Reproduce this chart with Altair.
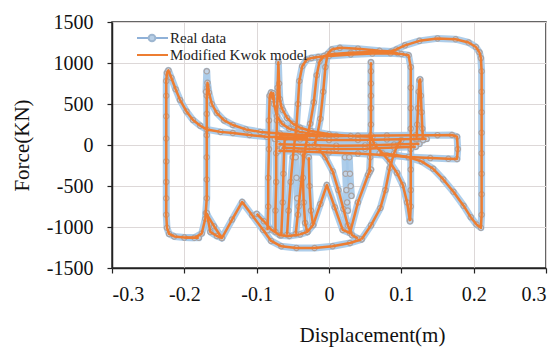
import altair as alt
import pandas as pd

# ---- x tick values / y tick values
x_ticks = [-0.3, -0.2, -0.1, 0.0, 0.1, 0.2, 0.3]
y_ticks = [-1500, -1000, -500, 0, 500, 1000, 1500]

# ---- hysteresis segments (displacement m, force kN)
s1_x = [-0.180, -0.200, -0.214, -0.221, -0.224, -0.225, -0.225, -0.225, -0.225, -0.225, -0.225, -0.225, -0.225, -0.224, -0.222, -0.218, -0.212, -0.206, -0.197, -0.188, -0.178, -0.169, -0.150, -0.133, -0.110, -0.086, -0.060, -0.030]
s1_y = [-1132, -1128, -1115, -1085, -1010, -850, -650, -450, -200, 80, 350, 600, 780, 880, 910, 820, 680, 550, 410, 305, 235, 190, 160, 146, 122, 100, 90, 82]

s2_x = [-0.200, -0.186, -0.176, -0.171, -0.169, -0.169, -0.169, -0.169, -0.169, -0.169, -0.168, -0.166, -0.162, -0.155, -0.145, -0.133, -0.115, -0.095, -0.068, -0.040, -0.010]
s2_y = [-1128, -1132, -1080, -900, -650, -420, -150, 120, 380, 600, 760, 640, 500, 390, 300, 244, 190, 160, 140, 122, 110]

s3_x = [-0.170, -0.159, -0.148, -0.134, -0.120, -0.106, -0.091, -0.080, -0.066, -0.045, -0.020, 0.005, 0.029, 0.045]
s3_y = [-830, -990, -1134, -910, -695, -860, -1036, -1170, -1235, -1255, -1256, -1235, -1195, -1150]

s3b_x = [-0.169, -0.164, -0.155, -0.148]
s3b_y = [-830, -1060, -1110, -1134]

s4_x = [-0.100, -0.090, -0.080, -0.068, -0.055, -0.040, -0.030, -0.022, -0.012, -0.003, 0.008, 0.019, 0.029, 0.040, 0.054, 0.058]
s4_y = [-840, -930, -1030, -1100, -1110, -1090, -1060, -976, -720, -488, -760, -1036, -1073, -700, -366, -300]

s5_x = [-0.074, -0.074, -0.073, -0.073, -0.072, -0.071, -0.070, -0.069, -0.068, -0.066, -0.064, -0.058, -0.050, -0.040, -0.025, 0.000, 0.030, 0.060]
s5_y = [-1060, -800, -450, -100, 300, 700, 1010, 750, 560, 470, 427, 330, 260, 210, 170, 130, 110, 100]

s6_x = [-0.085, -0.084, -0.084, -0.083, -0.083, -0.082, -0.080, -0.078, -0.077, -0.076, -0.072, -0.065, -0.055, -0.040, -0.020, 0.010]
s6_y = [-1040, -750, -400, -50, 300, 600, 640, 560, 630, 500, 350, 260, 200, 160, 130, 112]

t3_x = [-0.058, -0.056, -0.053, -0.050, -0.047, -0.045, -0.043, -0.041, -0.037, -0.031, -0.024, -0.015, 0.000, 0.030, 0.060, 0.085, 0.100, 0.110, 0.113, 0.113, 0.113, 0.113, 0.113, 0.113, 0.113, 0.113, 0.112]
t3_y = [-1095, -800, -450, -150, 80, 230, 500, 780, 960, 1040, 1062, 1072, 1085, 1105, 1115, 1118, 1110, 1095, 950, 700, 450, 200, -50, -300, -550, -750, -920]

t2_x = [-0.046, -0.042, -0.038, -0.034, -0.030, -0.026, -0.021, -0.017, -0.013, -0.007, 0.005, 0.030, 0.060, 0.085, 0.095]
t2_y = [-1085, -750, -420, -120, 100, 260, 520, 850, 1020, 1085, 1110, 1125, 1135, 1130, 1120]

t1_x = [-0.020, -0.016, -0.012, -0.008, -0.005, -0.002, 0.004, 0.015, 0.040, 0.070, 0.086, 0.093, 0.105, 0.125, 0.150, 0.175, 0.193, 0.203, 0.208, 0.210, 0.211, 0.211, 0.211, 0.211, 0.211, 0.211, 0.211, 0.211, 0.210, 0.204, 0.196, 0.186, 0.172, 0.158, 0.144, 0.128, 0.110, 0.090, 0.070]
t1_y = [0, 130, 320, 650, 950, 1110, 1165, 1185, 1175, 1150, 1140, 1165, 1215, 1270, 1300, 1290, 1250, 1195, 1130, 1060, 900, 650, 400, 150, -100, -350, -600, -850, -1010, -970, -880, -740, -570, -420, -290, -200, -150, -120, -100]

b1_x = [-0.070, -0.040, 0.000, 0.040, 0.080, 0.120, 0.150, 0.170, 0.177, 0.178, 0.177, 0.165, 0.140, 0.110, 0.080, 0.040, 0.000, -0.040, -0.070]
b1_y = [118, 112, 108, 112, 115, 118, 120, 122, 100, -50, -170, -168, -160, -145, -125, -105, -90, -80, -70]

b2_x = [-0.075, -0.040, 0.000, 0.040, 0.080, 0.120, 0.135]
b2_y = [75, 68, 60, 62, 68, 72, 75]

b3_x = [-0.070, -0.030, 0.010, 0.050, 0.090, 0.125]
b3_y = [10, 0, -8, -5, 5, 15]

b4_x = [-0.065, -0.030, 0.010, 0.050, 0.090, 0.120]
b4_y = [-35, -45, -50, -45, -30, -20]

v1_x = [0.056, 0.057, 0.057, 0.058, 0.058, 0.058, 0.058, 0.058, 0.058]
v1_y = [-330, -150, 50, 250, 450, 600, 750, 900, 1010]

v2_x = [0.121, 0.122, 0.123, 0.124, 0.125, 0.126, 0.127, 0.128, 0.129, 0.130]
v2_y = [80, 250, 450, 650, 790, 800, 600, 400, 200, 60]

j_x = [0.058, 0.063, 0.074, 0.084, 0.094, 0.102, 0.108, 0.112]
j_y = [120, 0, -100, -207, -340, -488, -700, -930]

m3_x = [-0.015, -0.005, 0.005, 0.013, 0.020, 0.026, 0.032, 0.040]
m3_y = [-40, -150, -320, -550, -780, -980, -1100, -1140]

m4_x = [0.045, 0.058, 0.071, 0.078, 0.084, 0.090, 0.095, 0.100]
m4_y = [-1150, -980, -768, -550, -280, -100, 0, 60]

m5_x = [-0.066, -0.064, -0.063, -0.062, -0.061]
m5_y = [-1100, -700, -350, -50, 100]

m6_x = [-0.036, -0.036, -0.035, -0.033, -0.030]
m6_y = [-100, -400, -700, -950, -1060]

m7_x = [-0.028, -0.027, -0.025, -0.022]
m7_y = [-150, -500, -800, -976]

# real-data-only parts (where the model does not follow)
r1_x = [0.022, 0.023, 0.024, 0.025, 0.026]
r1_y = [-150, -350, -550, -700, -800]
r2_x = [0.028, 0.029, 0.030, 0.031]
r2_y = [-150, -350, -500, -620]
r3_x = [-0.170, -0.169, -0.168]
r3_y = [650, 900, 700]
r4_x = [-0.046, -0.045, -0.044, -0.043]
r4_y = [-150, -400, -650, -850]

model_segments = {
    "s1": (s1_x, s1_y), "s2": (s2_x, s2_y), "s3": (s3_x, s3_y), "s3b": (s3b_x, s3b_y),
    "s4": (s4_x, s4_y), "s5": (s5_x, s5_y), "s6": (s6_x, s6_y),
    "t1": (t1_x, t1_y), "t2": (t2_x, t2_y), "t3": (t3_x, t3_y),
    "b1": (b1_x, b1_y), "b2": (b2_x, b2_y), "b3": (b3_x, b3_y), "b4": (b4_x, b4_y),
    "v1": (v1_x, v1_y), "v2": (v2_x, v2_y), "j": (j_x, j_y),
    "m3": (m3_x, m3_y), "m4": (m4_x, m4_y), "m5": (m5_x, m5_y),
    "m6": (m6_x, m6_y), "m7": (m7_x, m7_y),
}
real_only_segments = {
    "r1": (r1_x, r1_y), "r2": (r2_x, r2_y), "r3": (r3_x, r3_y), "r4": (r4_x, r4_y),
}


def to_rows(segs):
    rows = []
    for name, (xs, ys) in segs.items():
        if len(xs) != len(ys):
            raise ValueError(f"length mismatch in {name}: {len(xs)} vs {len(ys)}")
        for i, (xv, yv) in enumerate(zip(xs, ys)):
            rows.append({"seg": name, "i": i, "x": xv, "y": yv})
    return pd.DataFrame(rows)


model_df = to_rows(model_segments)
real_df = pd.concat([model_df, to_rows(real_only_segments)], ignore_index=True)

FONT = "Liberation Serif"
BLUE = "#A4C8E8"
ORANGE = "#ED7D31"

x_enc = alt.X(
    "x:Q",
    scale=alt.Scale(domain=[-0.3, 0.3], nice=False, zero=False),
    axis=alt.Axis(
        values=x_ticks,
        labelExpr="datum.value == 0 ? '0' : (datum.value < 0 ? '-' + format(-datum.value, '.1f') : format(datum.value, '.1f'))",
        title="Displacement(m)",
        titleX=260, titleY=73, titleAlign="center", titleBaseline="alphabetic",
        labelPadding=11,
    ),
)
y_enc = alt.Y(
    "y:Q",
    scale=alt.Scale(domain=[-1500, 1500], nice=False, zero=False),
    axis=alt.Axis(
        values=y_ticks,
        labelExpr="datum.value < 0 ? '-' + format(-datum.value, 'd') : format(datum.value, 'd')",
        title="Force(KN)",
        titleX=-84, titleY=123, titleAngle=270, titleAlign="center", titleBaseline="alphabetic",
        labelPadding=14,
    ),
)

blue_line = alt.Chart(real_df).mark_line(
    color=BLUE, strokeWidth=7, strokeJoin="round", strokeCap="round", opacity=0.9
).encode(x=x_enc, y=y_enc, detail="seg:N", order="i:Q")

blue_pts = alt.Chart(real_df).mark_point(
    filled=True, fill="#C3D5E8", stroke="#A8A2A2", strokeWidth=1.2, size=28, opacity=1
).encode(x=x_enc, y=y_enc)

orange_line = alt.Chart(model_df).mark_line(
    color=ORANGE, strokeWidth=2.5, strokeJoin="round"
).encode(x=x_enc, y=y_enc, detail="seg:N", order="i:Q")

legend_df = pd.DataFrame({"k": [0]})
leg_blue = alt.Chart(legend_df).mark_rule(color="#8FB1D8", strokeWidth=2).encode(
    x=alt.value(25), x2=alt.value(56), y=alt.value(16))
leg_dot = alt.Chart(legend_df).mark_point(
    filled=True, fill="#B8CFE6", stroke="#9DB6D0", size=45, opacity=1).encode(
    x=alt.value(40), y=alt.value(16))
leg_orange = alt.Chart(legend_df).mark_rule(color=ORANGE, strokeWidth=2).encode(
    x=alt.value(25), x2=alt.value(56), y=alt.value(33))
leg_t1 = alt.Chart(legend_df).mark_text(
    align="left", baseline="middle", font=FONT, fontSize=15, color="#222222").encode(
    x=alt.value(58), y=alt.value(16), text=alt.value("Real data"))
leg_t2 = alt.Chart(legend_df).mark_text(
    align="left", baseline="middle", font=FONT, fontSize=15, color="#222222").encode(
    x=alt.value(58), y=alt.value(33), text=alt.value("Modified Kwok model"))

chart = alt.layer(
    blue_line, blue_pts, orange_line, leg_blue, leg_dot, leg_orange, leg_t1, leg_t2
).properties(
    width=434, height=246,
    autosize=alt.AutoSizeParams(type="none"),
    padding={"left": 104, "top": 14, "right": 6, "bottom": 81},
).configure_view(
    stroke="#333333", strokeWidth=1.5
).configure_axis(
    labelFont=FONT, labelFontSize=20, labelColor="#111111",
    titleFont=FONT, titleFontSize=21, titleFontWeight="normal", titleColor="#111111",
    domainColor="#222222", domainWidth=1.5,
    tickColor="#222222", tickSize=5, tickWidth=1.2,
    gridColor="#DDD8D8", gridWidth=1,
)

chart.save("out.html", embed_options={"renderer": "svg", "actions": False})
